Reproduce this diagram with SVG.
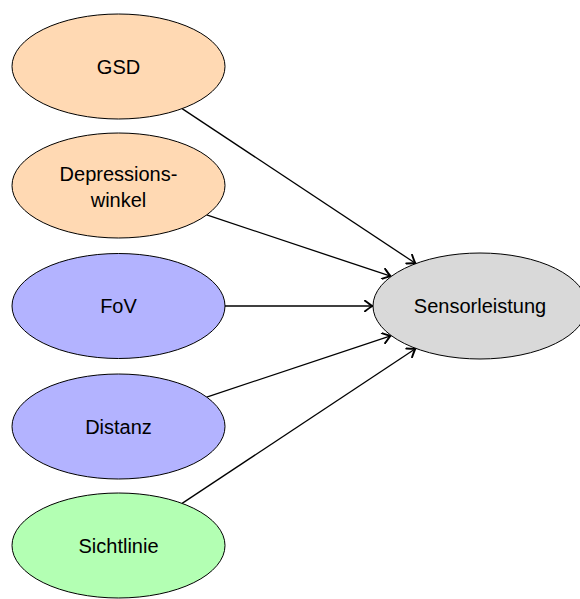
<svg xmlns="http://www.w3.org/2000/svg" width="580" height="599" viewBox="0 0 580 599">
<style>
.n{stroke:#000;stroke-width:1}
.t{font-family:"Liberation Sans",Arial,sans-serif;font-size:20px;text-anchor:middle;fill:#000}
.c{stroke:#000;stroke-width:1.3;fill:none;marker-end:url(#ah)}
</style>
<defs>
<marker id="ah" markerWidth="12" markerHeight="12" viewBox="-6 -4 8 8" refX="0" refY="0" orient="auto" markerUnits="userSpaceOnUse">
<path d="M-5,-3.5 Q-1.5,-0.8 0,0 Q-1.5,0.8 -5,3.5" fill="none" stroke="#000" stroke-width="1.3" stroke-linecap="round" stroke-linejoin="round"/>
</marker>
</defs>
<g id="connectors">
<line class="c" x1="182.1" y1="108.6" x2="415.4" y2="263.3"/>
<line class="c" x1="206.7" y1="214.9" x2="390.6" y2="276.2"/>
<line class="c" x1="225" y1="306" x2="372.5" y2="306"/>
<line class="c" x1="206.7" y1="397.1" x2="390.6" y2="335.8"/>
<line class="c" x1="182.1" y1="503.4" x2="415.4" y2="348.7"/>
</g>
<g id="gsd"><ellipse class="n" cx="118.5" cy="66.5" rx="106.5" ry="52.5" fill="#FFD9B3"/><text class="t" x="118.5" y="73.5">GSD</text></g>
<g id="depressionswinkel"><ellipse class="n" cx="118.5" cy="185.5" rx="106.5" ry="52.5" fill="#FFD9B3"/><text class="t" x="118.5" y="180.5">Depressions-</text><text class="t" x="118.5" y="206.5">winkel</text></g>
<g id="fov"><ellipse class="n" cx="118.5" cy="306" rx="106.5" ry="52.5" fill="#B3B3FF"/><text class="t" x="118.5" y="313">FoV</text></g>
<g id="distanz"><ellipse class="n" cx="118.5" cy="426.5" rx="106.5" ry="52.5" fill="#B3B3FF"/><text class="t" x="118.5" y="433.5">Distanz</text></g>
<g id="sichtlinie"><ellipse class="n" cx="118.5" cy="545.5" rx="106.5" ry="52.5" fill="#B3FFB3"/><text class="t" x="118.5" y="552.5">Sichtlinie</text></g>
<g id="sensorleistung"><ellipse class="n" cx="480" cy="306" rx="107" ry="53" fill="#D9D9D9"/><text class="t" x="480" y="313">Sensorleistung</text></g>
</svg>
